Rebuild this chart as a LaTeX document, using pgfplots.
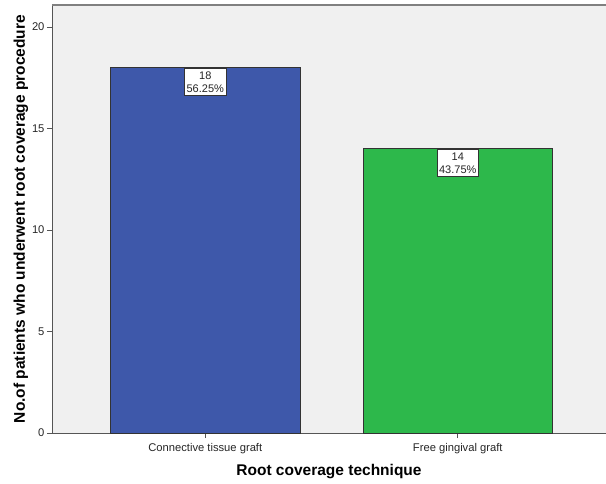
\documentclass[border=0pt]{standalone}
\usepackage{pgfplots}
\pgfplotsset{compat=1.18}
\usepackage{fontspec}
\setmainfont{Liberation Sans}
\definecolor{spssblue}{HTML}{3E58AA}
\definecolor{spssgreen}{HTML}{2DB84B}
\definecolor{bgcol}{HTML}{F0F0F0}
\definecolor{axcol}{HTML}{555555}
\begin{document}
\begin{tikzpicture}
\useasboundingbox (-52pt,-50pt) rectangle (554pt,433pt);
\begin{axis}[
  scale only axis,
  width=554pt, height=428pt,
  xmin=-0.607, xmax=1.587,
  ymin=0, ymax=21.08,
  axis background/.style={fill=bgcol},
  axis lines=left,
  axis line style={-, axcol, line width=0.9pt},
  tick align=outside,
  major tick length=5pt,
  tick style={axcol, line width=0.8pt},
  xtick={0,1},
  xticklabels={Connective tissue graft, Free gingival graft},
  ytick={0,5,10,15,20},
  tick label style={font=\fontsize{11.2}{13}\selectfont, text=black!85},
  xticklabel style={yshift=-1.5pt},
  yticklabel style={xshift=1pt},
  /pgf/number format/assume math mode=true,
  xlabel={\textbf{Root coverage technique}},
  ylabel={\textbf{No.of patients who underwent root coverage procedure}},
  label style={font=\fontsize{15.5}{18}\selectfont},
  xlabel style={yshift=-4pt},
  ylabel style={yshift=-3pt},
  ybar, bar width=0.75, bar shift=0pt,
  point meta=explicit symbolic,
  nodes near coords,
  nodes near coords align={below},
  every node near coord/.append style={
    anchor=north, yshift=0pt, fill=white, draw=black!80, line width=0.6pt, align=center,
    font=\fontsize{11}{13}\selectfont, inner xsep=2pt, inner ysep=3.5pt, text=black!85},
  clip=false,
]
\addplot[fill=spssblue, draw=black!80, line width=0.7pt] coordinates {(0,18) [{18\\56.25\%}]};
\addplot[fill=spssgreen, draw=black!80, line width=0.7pt] coordinates {(1,14) [{14\\43.75\%}]};
\draw[gray, line width=1.2pt] (rel axis cs:0,1) -- (rel axis cs:1,1);
\end{axis}
\end{tikzpicture}
\end{document}
